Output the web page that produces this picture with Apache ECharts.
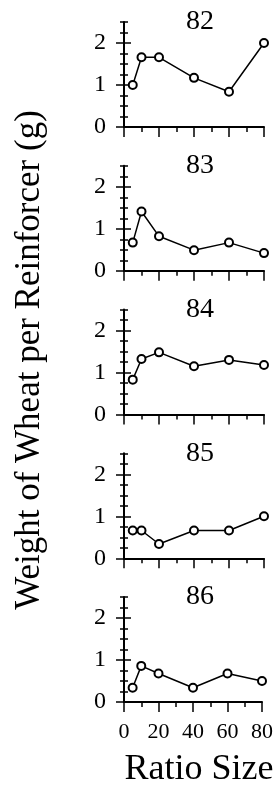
<!DOCTYPE html>
<html>
<head>
<meta charset="utf-8">
<script src="https://cdn.jsdelivr.net/npm/echarts@6/dist/echarts.min.js"></script>
<style>
html,body{margin:0;padding:0;background:#fff;}
#c{width:276px;height:785px;}
</style>
</head>
<body>
<div id="c"></div>
<script>
const ratioSizes = [5, 10, 20, 40, 60, 80];
const subjects = ['82', '83', '84', '85', '86'];
const s82 = [1.0, 1.66, 1.66, 1.17, 0.84, 2.0];
const s83 = [0.67, 1.41, 0.82, 0.49, 0.67, 0.42];
const s84 = [0.83, 1.32, 1.48, 1.15, 1.30, 1.18];
const s85 = [0.66, 0.66, 0.34, 0.66, 0.66, 1.0];
const s86 = [0.34, 0.86, 0.68, 0.34, 0.68, 0.50];
const yMajorTicks = [0, 1, 2];
const xMajorTicks = [0, 20, 40, 60, 80];
const yTitle = 'Weight of Wheat per Reinforcer (g)';
const xTitle = 'Ratio Size';

const allSeries = [s82, s83, s84, s85, s86];
const FONT = '"Liberation Serif", "Times New Roman", serif';

const grids = [], xAxes = [], yAxes = [], series = [], titles = [];
const gridLeft = 124, gridWidth = 140, gridH = 105, step = 143.75, top0 = 22;

function yAxisBase(i) {
  return {type: 'value', gridIndex: i, min: 0, max: 2.5, interval: 0.25, position: 'left', offset: 0,
    splitLine: {show: false}};
}

allSeries.forEach((vals, i) => {
  const top = top0 + i * step;
  grids.push({left: gridLeft, top: top, width: gridWidth, height: gridH, containLabel: false});
  const last = i === allSeries.length - 1;
  xAxes.push({
    type: 'value', gridIndex: i, min: 0, max: 80, interval: 10, position: 'bottom', offset: 0,
    axisLine: {show: true, onZero: false, lineStyle: {color: '#000', width: 2}},
    axisTick: {show: true, length: 5, lineStyle: {color: '#000', width: 1.5}},
    axisLabel: {show: false}, splitLine: {show: false}
  });
  xAxes.push({
    type: 'value', gridIndex: i, min: 0, max: 80, interval: 10, position: 'bottom', offset: 0,
    axisLine: {show: false, onZero: false},
    axisTick: {show: true, length: 10, customValues: xMajorTicks, lineStyle: {color: '#000', width: 1.5}},
    axisLabel: {show: last, margin: 19, color: '#000', fontFamily: FONT, fontSize: 22, customValues: xMajorTicks},
    splitLine: {show: false}
  });
  yAxes.push(Object.assign(yAxisBase(i), {
    axisLine: {show: true, onZero: false, lineStyle: {color: '#000', width: 2}},
    axisTick: {show: true, inside: false, length: 4, lineStyle: {color: '#000', width: 1.5}},
    axisLabel: {show: true, margin: 18, color: '#000', fontFamily: FONT, fontSize: 24,
      customValues: yMajorTicks, formatter: v => String(v)}
  }));
  yAxes.push(Object.assign(yAxisBase(i), {
    axisLine: {show: false, onZero: false},
    axisTick: {show: true, inside: true, length: 4, lineStyle: {color: '#000', width: 1.5}},
    axisLabel: {show: false}
  }));
  yAxes.push(Object.assign(yAxisBase(i), {
    axisLine: {show: false, onZero: false},
    axisTick: {show: true, inside: false, length: 8, customValues: yMajorTicks, lineStyle: {color: '#000', width: 1.5}},
    axisLabel: {show: false}
  }));
  yAxes.push(Object.assign(yAxisBase(i), {
    axisLine: {show: false, onZero: false},
    axisTick: {show: true, inside: true, length: 7, customValues: yMajorTicks, lineStyle: {color: '#000', width: 1.5}},
    axisLabel: {show: false}
  }));
  series.push({
    type: 'line', xAxisIndex: i * 2, yAxisIndex: i * 4, clip: false,
    data: ratioSizes.map((x, k) => [x, vals[k]]),
    symbol: 'circle', symbolSize: 8,
    itemStyle: {color: '#fff', borderColor: '#000', borderWidth: 2},
    lineStyle: {color: '#000', width: 1.5},
    emphasis: {disabled: true}, animation: false, z: 5
  });
  titles.push({
    text: subjects[i], left: 200, top: top - 14, textAlign: 'center', padding: 0,
    textStyle: {color: '#000', fontFamily: FONT, fontSize: 28, fontWeight: 'normal', lineHeight: 28}
  });
});

const chart = echarts.init(document.getElementById('c'), null, {renderer: 'canvas'});
chart.setOption({
  backgroundColor: '#fff',
  animation: false,
  title: titles,
  grid: grids,
  xAxis: xAxes,
  yAxis: yAxes,
  series: series,
  graphic: [
    {type: 'text', x: 30, y: 360, rotation: Math.PI / 2,
     style: {text: yTitle, fill: '#000', font: '35px ' + FONT, textAlign: 'center', textVerticalAlign: 'middle'}},
    {type: 'text', x: 199, y: 770,
     style: {text: xTitle, fill: '#000', font: '36px ' + FONT, textAlign: 'center', textVerticalAlign: 'middle'}}
  ]
});
</script>
</body>
</html>
